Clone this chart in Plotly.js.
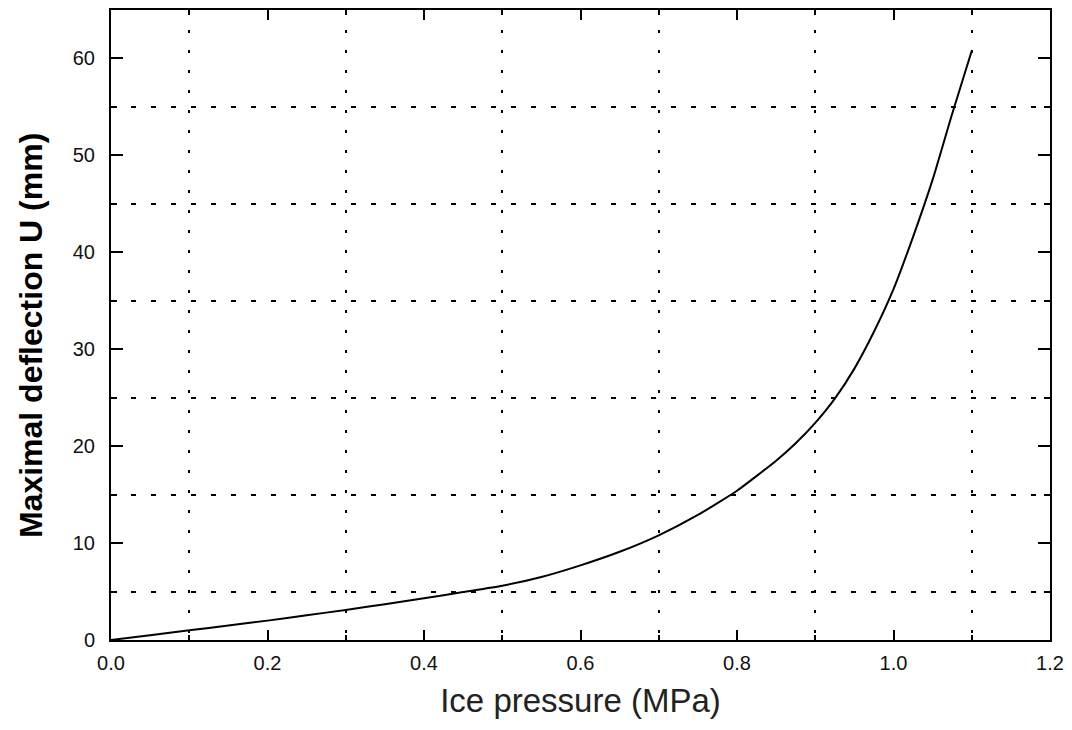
<!DOCTYPE html>
<html>
<head>
<meta charset="utf-8">
<script src="https://cdn.plot.ly/plotly-3.0.1.min.js"></script>
<style>html,body{margin:0;padding:0;background:#fff;}#chart{width:1072px;height:730px;}</style>
</head>
<body>
<div id="chart"></div>
<script>
const pressure = [0, 0.05, 0.1, 0.15, 0.2, 0.25, 0.3, 0.35, 0.4, 0.45, 0.5, 0.55, 0.6, 0.65, 0.7, 0.75, 0.8, 0.85, 0.875, 0.9, 0.925, 0.95, 0.975, 1.0, 1.025, 1.05, 1.075, 1.1];
const deflection = [0, 0.5, 1.0, 1.5, 2.0, 2.55, 3.1, 3.7, 4.3, 4.95, 5.6, 6.5, 7.7, 9.1, 10.8, 12.9, 15.4, 18.5, 20.3, 22.4, 24.9, 28.0, 31.8, 36.2, 41.6, 47.5, 54.3, 60.8];
const xTickVals = [0, 0.2, 0.4, 0.6, 0.8, 1.0, 1.2];
const xTickText = ['0.0', '0.2', '0.4', '0.6', '0.8', '1.0', '1.2'];
const xGridVals = [0.1, 0.3, 0.5, 0.7, 0.9, 1.1];
const yTickVals = [0, 10, 20, 30, 40, 50, 60];
const yGridVals = [5, 15, 25, 35, 45, 55];
const xTitle = 'Ice pressure (MPa)';
const yTitle = 'Maximal deflection U (mm)';

const tickFont = {family: 'Liberation Sans, Arial, sans-serif', size: 20, color: '#111'};

const trace = {
  x: pressure, y: deflection, type: 'scatter', mode: 'lines',
  line: {color: '#000', width: 2, shape: 'spline', smoothing: 0.5},
  hoverinfo: 'skip', showlegend: false
};

const layout = {
  width: 1072, height: 730,
  margin: {l: 111, r: 22, t: 10, b: 90},
  paper_bgcolor: '#fff', plot_bgcolor: '#fff',
  showlegend: false,
  xaxis: {
    range: [0, 1.2],
    tickmode: 'array', tickvals: xTickVals, ticktext: xTickText,
    ticks: 'inside', ticklen: 10, tickwidth: 2, tickcolor: '#000',
    showline: true, linecolor: '#000', linewidth: 2, mirror: 'ticks',
    showgrid: false, zeroline: false,
    tickfont: tickFont, ticklabelstandoff: 4,
    minor: {tickmode: 'array', tickvals: xGridVals, showgrid: true, gridcolor: '#000', gridwidth: 2, griddash: '3px,17px', ticks: 'inside', ticklen: 5, tickcolor: '#000', tickwidth: 2},
    title: {text: xTitle, font: {family: 'Liberation Sans, Arial, sans-serif', size: 33, color: '#222'}, standoff: 16}
  },
  yaxis: {
    range: [0, 65],
    tickmode: 'array', tickvals: yTickVals,
    ticks: 'inside', ticklen: 12, tickwidth: 2, tickcolor: '#000',
    showline: true, linecolor: '#000', linewidth: 2, mirror: 'ticks',
    showgrid: false, zeroline: false,
    tickfont: tickFont, ticklabelstandoff: 10,
    minor: {tickmode: 'array', tickvals: yGridVals, showgrid: true, gridcolor: '#000', gridwidth: 2, griddash: '5px,15px', ticks: 'inside', ticklen: 6, tickcolor: '#000', tickwidth: 2}
  },
  annotations: [{
    text: yTitle, textangle: -90, showarrow: false,
    xref: 'paper', yref: 'paper', x: -0.0852, y: 0.484, xanchor: 'center', yanchor: 'middle',
    font: {family: 'Liberation Sans, Arial, sans-serif', size: 32, color: '#000', weight: 'bold'}
  }]
};

Plotly.newPlot('chart', [trace], layout, {staticPlot: true, displayModeBar: false});
</script>
</body>
</html>
